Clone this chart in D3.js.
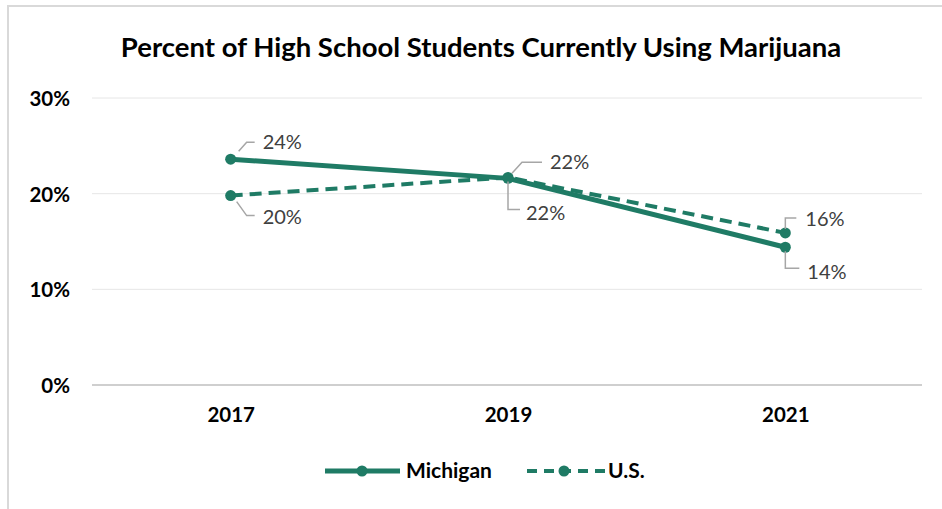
<!DOCTYPE html>
<html>
<head>
<meta charset="utf-8">
<script src="https://cdn.jsdelivr.net/npm/d3@7"></script>
<style>
	body { margin: 0; background: #fff; }
	text { font-family: Lato, "Open Sans", sans-serif; }
</style>
</head>
<body>
<script>
// Chart data
const years = ["2017", "2019", "2021"];
const michigan = [23.6, 21.6, 14.4];
const us = [19.8, 21.7, 15.9];
const michiganLabels = ["24%", "22%", "14%"];
const usLabels = ["20%", "22%", "16%"];
const yTicks = [0, 10, 20, 30];

const w = 942;
const h = 509;
const color = "#1f7b65";

const svg = d3.select("body").append("svg").attr("width", w).attr("height", h);

// Chart border (left + top visible)
svg.append("path")
	.attr("d", `M8,${h} V6 H${w}`)
	.attr("fill", "none")
	.attr("stroke", "#d9d9d9")
	.attr("stroke-width", 2);

// Title
svg.append("text")
	.attr("x", 481)
	.attr("y", 57)
	.attr("text-anchor", "middle")
	.attr("font-size", 27.5)
	.attr("font-weight", "bold")
	.attr("fill", "#000")
	.text("Percent of High School Students Currently Using Marijuana");

// Scales
const xScale = d3.scalePoint().domain(years).range([92, 924]).padding(0.5);
const yScale = d3.scaleLinear().domain([0, 30]).range([385, 98]);

// Gridlines
svg.append("g")
	.selectAll("line")
	.data(yTicks)
	.join("line")
	.attr("x1", 92)
	.attr("x2", 922)
	.attr("y1", (d) => yScale(d))
	.attr("y2", (d) => yScale(d))
	.attr("stroke", (d) => (d === 0 ? "#bfbfbf" : "#e6e6e6"))
	.attr("stroke-width", (d) => (d === 0 ? 1.5 : 1));

// Y axis
const yAxis = d3.axisLeft(yScale).tickValues(yTicks).tickFormat((d) => d + "%").tickSize(0).tickPadding(0);
const yG = svg.append("g").attr("transform", "translate(70,1)").call(yAxis);
yG.select(".domain").remove();
yG.selectAll("text").attr("font-size", 20.5).attr("font-weight", "bold").attr("fill", "#000").attr("font-family", null);

// X axis
const xAxis = d3.axisBottom(xScale).tickSize(0).tickPadding(0);
const xG = svg.append("g").attr("transform", "translate(0,407)").call(xAxis);
xG.select(".domain").remove();
xG.selectAll("text").attr("font-size", 20.5).attr("font-weight", "bold").attr("fill", "#000").attr("font-family", null);

// Lines
const line = d3.line().x((d, i) => xScale(years[i])).y((d) => yScale(d));

svg.append("path")
	.datum(us)
	.attr("d", line)
	.attr("fill", "none")
	.attr("stroke", color)
	.attr("stroke-width", 4)
	.attr("stroke-dasharray", "12,7");

svg.append("path")
	.datum(michigan)
	.attr("d", line)
	.attr("fill", "none")
	.attr("stroke", color)
	.attr("stroke-width", 5);

[michigan, us].forEach((series) => {
	svg.append("g")
		.selectAll("circle")
		.data(series)
		.join("circle")
		.attr("cx", (d, i) => xScale(years[i]))
		.attr("cy", (d) => yScale(d))
		.attr("r", 5.5)
		.attr("fill", color);
});

// Data labels with leader lines (offsets relative to the point)
const labels = [
	{ v: michigan[0], i: 0, t: michiganLabels[0], lead: [[8, -8], [16, -17], [24, -17]], tx: 32, ty: -10 },
	{ v: us[0], i: 0, t: usLabels[0], lead: [[6, 6], [16, 20], [24, 20]], tx: 32, ty: 28 },
	{ v: michigan[1], i: 1, t: michiganLabels[1], lead: [[4, -5], [14, -16], [34, -16]], tx: 42, ty: -9 },
	{ v: us[1], i: 1, t: usLabels[1], lead: [[0, 4], [0, 32], [12, 32]], tx: 18, ty: 43 },
	{ v: us[2], i: 2, t: usLabels[2], lead: [[0, -4], [0, -15], [11, -15]], tx: 20, ty: -7 },
	{ v: michigan[2], i: 2, t: michiganLabels[2], lead: [[0, 4], [0, 21], [14, 21]], tx: 22, ty: 32 },
];

labels.forEach((l) => {
	const px = xScale(years[l.i]);
	const py = yScale(l.v);
	svg.append("path")
		.attr("d", d3.line()(l.lead.map((p) => [px + p[0], py + p[1]])))
		.attr("fill", "none")
		.attr("stroke", "#a6a6a6")
		.attr("stroke-width", 1.5);
	svg.append("text")
		.attr("x", px + l.tx)
		.attr("y", py + l.ty)
		.attr("font-size", 20)
		.attr("fill", "#404040")
		.text(l.t);
});

// Legend
const legend = svg.append("g").attr("transform", "translate(0,471)");

legend.append("line")
	.attr("x1", 325).attr("x2", 400)
	.attr("stroke", color).attr("stroke-width", 5);
legend.append("circle").attr("cx", 362).attr("r", 5.5).attr("fill", color);
legend.append("text")
	.attr("x", 406).attr("y", 7)
	.attr("font-size", 21).attr("font-weight", "bold")
	.text("Michigan");

legend.append("line")
	.attr("x1", 527).attr("x2", 605)
	.attr("stroke", color).attr("stroke-width", 4)
	.attr("stroke-dasharray", "10,7");
legend.append("circle").attr("cx", 564).attr("r", 5.5).attr("fill", color);
legend.append("text")
	.attr("x", 608).attr("y", 7)
	.attr("font-size", 21).attr("font-weight", "bold")
	.text("U.S.");
</script>
</body>
</html>
